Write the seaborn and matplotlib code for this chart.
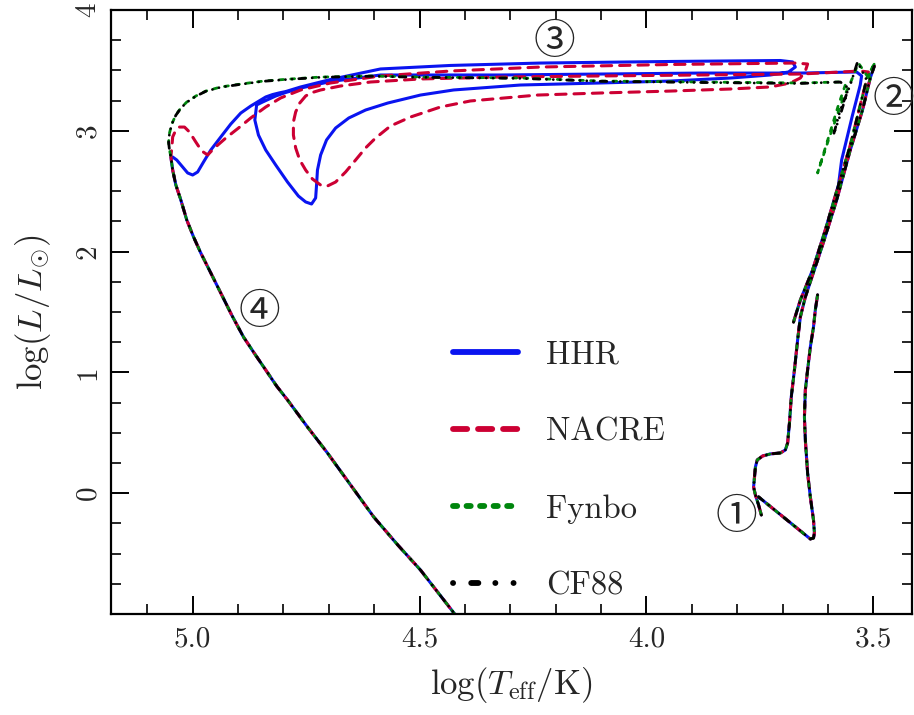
import numpy as np
import pandas as pd
import matplotlib
matplotlib.use("Agg")
import matplotlib.pyplot as plt
from matplotlib.lines import Line2D
from matplotlib.ticker import MultipleLocator
import seaborn as sns

# ---- parts shared by all four tracks ----
# pre-main sequence (Hayashi track down to ZAMS)
pms_logT = [3.623, 3.628, 3.632, 3.639, 3.645, 3.650, 3.652, 3.650, 3.645, 3.639,
            3.632, 3.630, 3.632, 3.639, 3.696, 3.753]
pms_logL = [1.641, 1.517, 1.376, 1.210, 1.020, 0.854, 0.631, 0.440, 0.167, -0.031,
            -0.222, -0.329, -0.371, -0.379, -0.205, -0.031]

# main sequence + red giant branch
rgb_logT = [3.747, 3.753, 3.760, 3.764, 3.762, 3.760, 3.756, 3.744, 3.727, 3.705,
            3.694, 3.689, 3.685, 3.681, 3.674, 3.667, 3.661, 3.650, 3.634, 3.612,
            3.581, 3.551, 3.524, 3.507, 3.498]
rgb_logL = [-0.180, -0.098, -0.015, 0.051, 0.134, 0.217, 0.275, 0.308, 0.325, 0.333,
            0.358, 0.416, 0.581, 0.796, 1.020, 1.268, 1.459, 1.624, 1.806, 2.055,
            2.427, 2.841, 3.172, 3.437, 3.536]

# early AGB from the clump
agb_logT = [3.676, 3.661, 3.634, 3.606, 3.577]
agb_logL = [1.417, 1.599, 1.848, 2.179, 2.551]

# white dwarf cooling
wd_logT = [5.048, 5.044, 5.037, 5.026, 5.013, 4.998, 4.982, 4.960, 4.938, 4.914, 4.888,
           4.863, 4.839, 4.815, 4.791, 4.747, 4.703, 4.652, 4.601, 4.548, 4.498, 4.421]
wd_logL = [2.783, 2.675, 2.551, 2.427, 2.262, 2.121, 1.988, 1.823, 1.657, 1.475, 1.293,
           1.152, 1.020, 0.887, 0.772, 0.548, 0.333, 0.068, -0.197, -0.429, -0.636, -1.008]

# ---- model specific late evolution (AGB tip, post-AGB loops) ----
hhr_logT = [3.570, 3.546, 3.529, 3.526, 3.537, 3.661, 3.881, 4.101, 4.322, 4.498, 4.586,
            4.696, 4.762, 4.795, 4.817, 4.846, 4.859, 4.863, 4.855, 4.839, 4.817, 4.791,
            4.767, 4.751, 4.738, 4.729, 4.727, 4.725, 4.718, 4.705, 4.685, 4.656, 4.619,
            4.570, 4.498, 4.425, 4.278, 4.101, 3.947, 3.815, 3.727, 3.687, 3.672, 3.678,
            3.705, 3.947, 4.233, 4.432, 4.586, 4.696, 4.762, 4.795, 4.809, 4.824, 4.839,
            4.872, 4.894, 4.916, 4.938, 4.960, 4.976, 4.989, 5.000, 5.011, 5.024, 5.035,
            5.044]
hhr_logL = [2.758, 3.131, 3.379, 3.454, 3.487, 3.478, 3.478, 3.470, 3.462, 3.462, 3.462,
            3.408, 3.354, 3.317, 3.288, 3.238, 3.214, 3.089, 2.965, 2.841, 2.717, 2.576,
            2.460, 2.411, 2.394, 2.444, 2.551, 2.675, 2.800, 2.924, 3.023, 3.106, 3.172,
            3.230, 3.296, 3.338, 3.379, 3.396, 3.412, 3.437, 3.462, 3.487, 3.528, 3.570,
            3.582, 3.574, 3.561, 3.541, 3.512, 3.425, 3.363, 3.325, 3.314, 3.300, 3.280,
            3.205, 3.147, 3.056, 2.949, 2.841, 2.742, 2.659, 2.634, 2.651, 2.709, 2.758,
            2.783]

nacre_logT = [3.551, 3.529, 3.515, 3.511, 3.529, 3.661, 3.881, 4.101, 4.322, 4.498, 4.608,
              4.674, 4.718, 4.740, 4.751, 4.764, 4.773, 4.778, 4.778, 4.773, 4.764, 4.751,
              4.736, 4.718, 4.703, 4.685, 4.663, 4.641, 4.619, 4.597, 4.564, 4.520, 4.454,
              4.388, 4.240, 4.101, 3.947, 3.815, 3.727, 3.683, 3.661, 3.650, 3.645, 3.672,
              3.947, 4.233, 4.432, 4.586, 4.696, 4.762, 4.806, 4.839, 4.872, 4.899, 4.927,
              4.952, 4.967, 4.980, 4.993, 5.007, 5.018, 5.029, 5.037, 5.044, 5.046]
nacre_logL = [2.882, 3.214, 3.421, 3.487, 3.495, 3.470, 3.462, 3.454, 3.445, 3.429, 3.404,
              3.371, 3.338, 3.313, 3.288, 3.230, 3.156, 3.073, 2.965, 2.858, 2.758, 2.675,
              2.601, 2.551, 2.543, 2.576, 2.659, 2.758, 2.858, 2.940, 3.040, 3.114, 3.197,
              3.247, 3.296, 3.313, 3.329, 3.346, 3.363, 3.396, 3.437, 3.495, 3.553, 3.561,
              3.549, 3.528, 3.495, 3.454, 3.396, 3.338, 3.272, 3.197, 3.106, 3.023, 2.940,
              2.858, 2.800, 2.833, 2.907, 2.990, 3.031, 3.031, 3.007, 2.949, 2.858]

fynbo_logT = [3.551, 3.529, 3.515, 3.496, 3.513, 3.533, 3.548, 3.568, 3.599, 3.623, 3.604,
              3.577, 3.562, 3.577, 3.661, 3.881, 4.101, 4.278, 4.498, 4.608, 4.718, 4.784,
              4.844, 4.894, 4.938, 4.971, 4.993, 5.013, 5.026, 5.037, 5.046, 5.051, 5.053,
              5.051]
fynbo_logL = [2.882, 3.214, 3.421, 3.570, 3.450, 3.561, 3.421, 3.255, 2.924, 2.651, 2.883,
              3.214, 3.379, 3.404, 3.396, 3.404, 3.412, 3.437, 3.445, 3.454, 3.445, 3.429,
              3.412, 3.387, 3.363, 3.329, 3.288, 3.238, 3.189, 3.131, 3.056, 2.982, 2.907,
              2.841]

cf88_logT = [3.551, 3.529, 3.515, 3.535, 3.551, 3.573, 3.588, 3.573, 3.555, 3.573, 3.661,
             3.881, 4.101, 4.278, 4.498, 4.608, 4.718, 4.784, 4.844, 4.894, 4.938, 4.971,
             4.993, 5.013, 5.026, 5.037, 5.046, 5.051, 5.053, 5.051]
cf88_logL = [2.882, 3.214, 3.421, 3.570, 3.379, 3.172, 2.965, 3.131, 3.354, 3.404, 3.392,
             3.400, 3.410, 3.434, 3.443, 3.452, 3.443, 3.427, 3.410, 3.385, 3.361, 3.327,
             3.286, 3.236, 3.187, 3.129, 3.054, 2.980, 2.905, 2.839]

models = ["HHR", "NACRE", "Fynbo", "CF88"]
late_T = {"HHR": hhr_logT, "NACRE": nacre_logT, "Fynbo": fynbo_logT, "CF88": cf88_logT}
late_L = {"HHR": hhr_logL, "NACRE": nacre_logL, "Fynbo": fynbo_logL, "CF88": cf88_logL}

# circled phase markers
mark_text = ["\u2460", "\u2461", "\u2462", "\u2463"]
mark_logT = [3.802, 3.456, 4.203, 4.852]
mark_logL = [-0.205, 3.255, 3.727, 1.492]

rows = []
for m in models:
    parts = [(pms_logT, pms_logL),
             (rgb_logT, rgb_logL),
             (agb_logT + late_T[m] + wd_logT, agb_logL + late_L[m] + wd_logL)]
    for seg, (tt, ll) in enumerate(parts):
        for t, l in zip(tt, ll):
            rows.append({"model": m, "seg": seg, "logT": t, "logL": l})
df = pd.DataFrame(rows)

colors = {"HHR": "#0a14f0", "NACRE": "#cc0033", "Fynbo": "#00860d", "CF88": "black"}
styles = {"HHR": "-",
          "NACRE": (0, (3.4, 2.6)),
          "Fynbo": (0, (1.4, 2.6)),
          "CF88": (0, (0.02, 2.4, 2.4, 2.4, 0.02, 2.4, 0.02, 2.4))}
leg_styles = {"HHR": "-",
              "NACRE": (0, (2.43, 1.86)),
              "Fynbo": (0, (0.72, 1.6)),
              "CF88": (0, (0.02, 3.1, 1.23, 2.9, 0.02, 3.1, 0.02, 3.1))}
widths = {"HHR": 2.2, "NACRE": 2.2, "Fynbo": 2.0, "CF88": 2.0}

sns.set_style("ticks")
plt.rcParams["font.family"] = ["cmr10", "Noto Sans CJK JP", "DejaVu Sans"]
plt.rcParams["mathtext.fontset"] = "cm"
plt.rcParams["axes.formatter.use_mathtext"] = True

fig = plt.figure(figsize=(9.14, 7.15), dpi=100)
ax = fig.add_axes([0.1214, 0.1413, 0.8764, 0.8447])

for m in models:
    sns.lineplot(data=df[df.model == m], x="logT", y="logL", units="seg",
                 estimator=None, sort=False, color=colors[m], lw=widths[m],
                 linestyle=styles[m], dash_capstyle="round", solid_capstyle="round",
                 solid_joinstyle="round", legend=False, ax=ax)

for s, t, l in zip(mark_text, mark_logT, mark_logL):
    ax.text(t, l, s, fontsize=30, family=["Noto Sans CJK JP"], ha="center",
            va="center", clip_on=False)

ax.set_xlim(5.18, 3.415)
ax.set_ylim(-1, 4)
ax.set_xticks([5.0, 4.5, 4.0, 3.5])
ax.set_xticklabels(["5.0", "4.5", "4.0", "3.5"])
ax.set_yticks([0, 1, 2, 3, 4])
ax.set_yticklabels(["0", "1", "2", "3", "4"])
ax.xaxis.set_minor_locator(MultipleLocator(0.1))
ax.yaxis.set_minor_locator(MultipleLocator(0.25))
ax.tick_params(which="both", direction="in", top=True, right=True, labelsize=21,
               color="black")
ax.tick_params(which="major", length=13, width=1.4, pad=9)
ax.tick_params(which="minor", length=7, width=1.2)
ax.tick_params(axis="y", labelrotation=90, pad=7)
for lab in ax.get_yticklabels():
    lab.set_va("center")
for sp in ax.spines.values():
    sp.set_linewidth(1.6)
    sp.set_color("black")

ax.set_xlabel(r"$\log(T_{\rm eff}/{\rm K})$", fontsize=25, labelpad=9)
ax.set_ylabel(r"$\log(L/L_{\odot})$", fontsize=25, labelpad=16)

handles = [Line2D([], [], color=colors[m], lw=4.2, linestyle=leg_styles[m],
                  dash_capstyle="round", solid_capstyle="round") for m in models]
ax.legend(handles, models, loc="center left", bbox_to_anchor=(0.427, 0.2375),
          frameon=False, fontsize=23.5, handlelength=2.0, handletextpad=0.85,
          labelspacing=1.46, borderpad=0, borderaxespad=0)

fig.savefig("out.png", dpi=100)
